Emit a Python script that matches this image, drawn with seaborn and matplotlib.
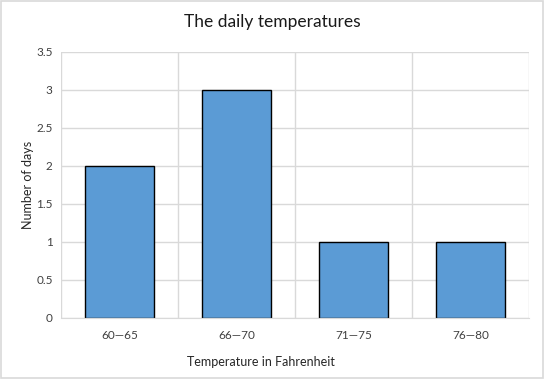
import pandas as pd
import matplotlib.pyplot as plt
import seaborn as sns
from matplotlib.patches import Rectangle

ranges = ['60\u201465', '66\u201470', '71\u201475', '76\u201480']
days = [2, 3, 1, 1]
y_ticks = [0, 0.5, 1, 1.5, 2, 2.5, 3, 3.5]
y_tick_labels = ['0', '0.5', '1', '1.5', '2', '2.5', '3', '3.5']


def main():
    df = pd.DataFrame({'Range': ranges, 'Days': days})

    sns.set_style('white')
    plt.rcParams['font.family'] = ['Lato', 'DejaVu Sans']

    fig = plt.figure(figsize=(5.45, 3.79), dpi=100)
    # plot area: x 61..529, y 52..318 (pixels)
    ax = fig.add_axes([0.112, 0.161, 0.859, 0.702])

    sns.barplot(x='Range', y='Days', data=df, color='#5B9BD5', saturation=1,
                edgecolor='black', linewidth=1, width=0.59, ax=ax)

    grid = '#D9D9D9'
    ax.set_ylim(0, 3.5)
    ax.set_xlim(-0.5, len(ranges) - 0.5)
    ax.set_yticks(y_ticks)
    ax.set_yticklabels(y_tick_labels)
    ax.set_xticks([i + 0.5 for i in range(-1, len(ranges))], minor=True)
    ax.yaxis.grid(True, color=grid, linewidth=1)
    ax.xaxis.grid(True, which='minor', color=grid, linewidth=1)
    ax.set_axisbelow(True)
    ax.tick_params(axis='both', which='both', length=0, labelsize=8.5, colors='#404040')
    ax.tick_params(axis='x', pad=9)
    ax.tick_params(axis='y', pad=6)
    for s in ax.spines.values():
        s.set_visible(False)
    ax.spines['bottom'].set_visible(True)
    ax.spines['bottom'].set_color(grid)

    ax.set_xlabel('Temperature in Fahrenheit', fontsize=9, color='#262626')
    ax.xaxis.set_label_coords(0.427, -0.143)
    ax.set_ylabel('Number of days', fontsize=9, color='#262626')
    ax.yaxis.set_label_coords(-0.057, 0.5)
    fig.suptitle('The daily temperatures', fontsize=12.5, x=0.5, y=0.942,
                 va='center', color='#1a1a1a')

    fig.patches.append(Rectangle((0.002, 0.003), 0.995, 0.994, transform=fig.transFigure,
                                 fill=False, edgecolor=grid, linewidth=1.2))

    fig.savefig('out.png', dpi=100)


if __name__ == "__main__":
    main()
